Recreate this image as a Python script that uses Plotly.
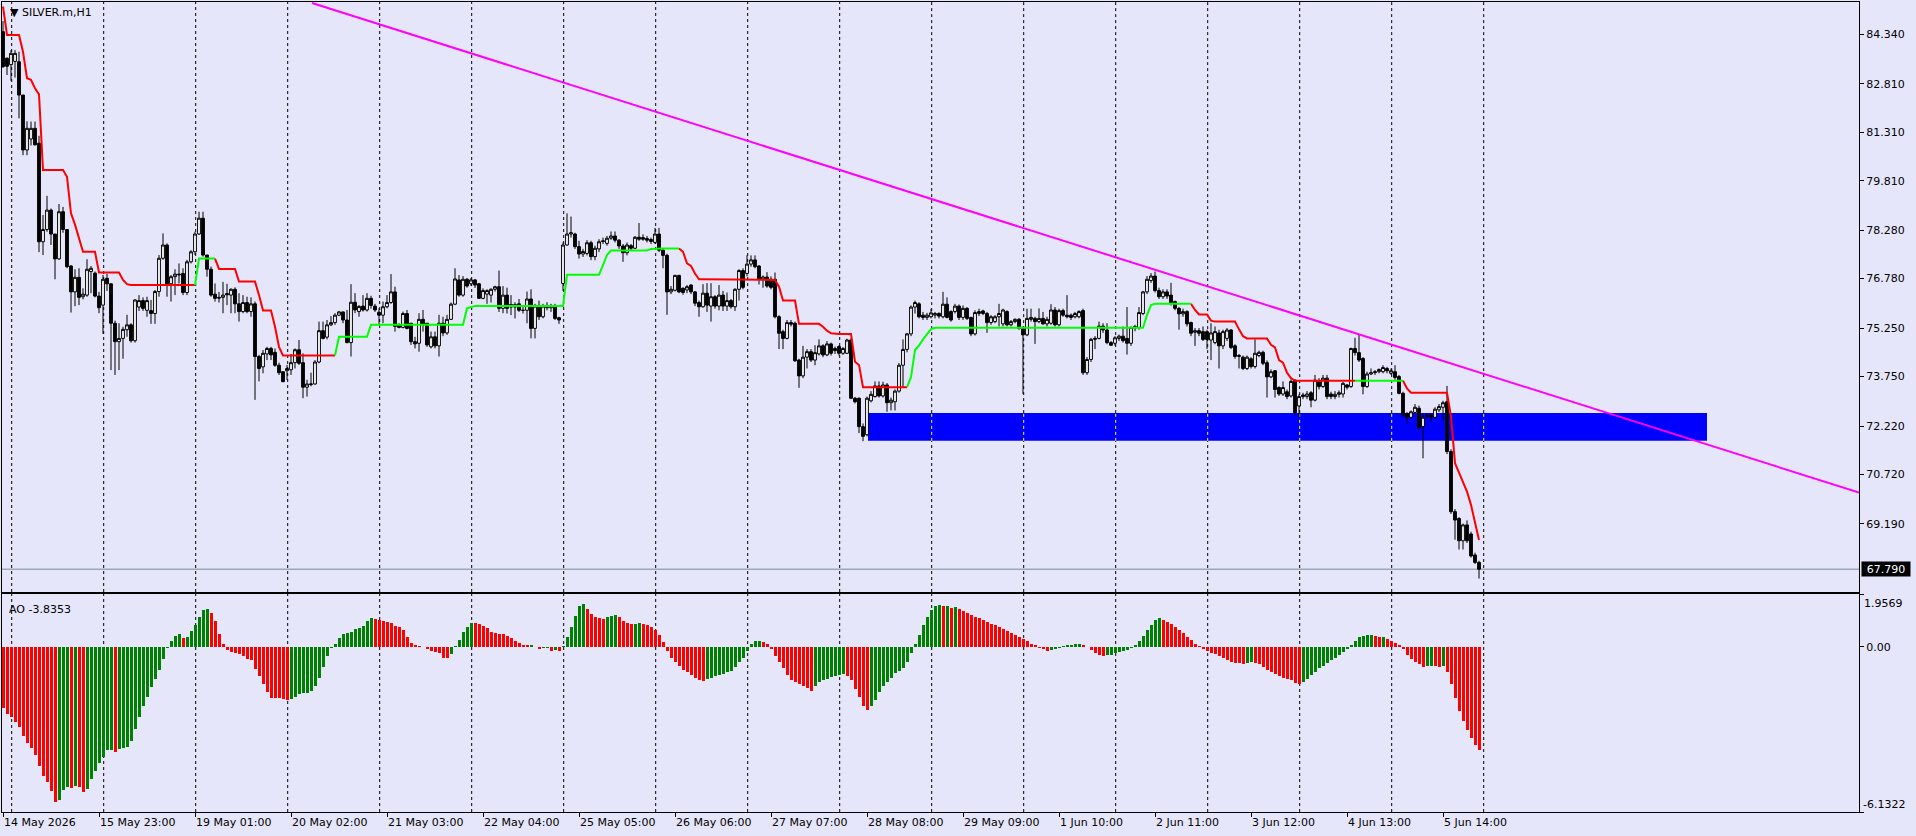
import plotly.graph_objects as go

# ---------------- DATA ----------------
time_labels = ["14 May 2026", "15 May 23:00", "19 May 01:00", "20 May 02:00", "21 May 03:00",
               "22 May 04:00", "25 May 05:00", "26 May 06:00", "27 May 07:00", "28 May 08:00",
               "29 May 09:00", "1 Jun 10:00", "2 Jun 11:00", "3 Jun 12:00", "4 Jun 13:00",
               "5 Jun 14:00"]
label_bars = [0, 24, 48, 72, 96, 120, 144, 168, 192, 216, 240, 264, 288, 312, 336, 360]

price_ticks = [84.34, 82.81, 81.31, 79.81, 78.28, 76.78, 75.25, 73.75, 72.22, 70.72, 69.19]

opens = [
 84.42, 83.60, 83.40, 83.50, 83.49, 82.46, 80.76, 81.10, 81.43, 80.97,
 77.92, 78.30, 78.90, 78.16, 77.39, 78.85, 78.30, 77.17, 76.37, 76.82,
 76.22, 76.27, 77.00, 76.95, 76.24, 75.96, 76.79, 76.62, 75.40, 74.83,
 74.93, 75.20, 75.35, 74.86, 75.90, 76.10, 75.80, 75.79, 75.70, 76.38,
 77.41, 77.82, 76.62, 76.84, 76.92, 76.94, 76.35, 77.30, 77.61, 78.16,
 78.65, 77.51, 77.07, 76.30, 76.20, 76.20, 76.32, 76.27, 76.45, 76.00,
 75.76, 76.04, 75.76, 76.00, 74.37, 74.05, 74.45, 74.62, 74.50, 74.10,
 73.90, 73.93, 73.96, 74.18, 74.58, 74.18, 73.42, 73.50, 73.52, 74.20,
 75.17, 74.97, 75.35, 75.42, 75.65, 75.75, 75.50, 74.80, 76.05, 75.76,
 75.93, 75.81, 76.17, 75.93, 75.74, 75.65, 75.91, 76.04, 76.37, 75.35,
 75.27, 75.70, 75.40, 74.83, 74.78, 75.52, 75.40, 74.67, 74.98, 74.70,
 75.40, 75.10, 75.52, 75.99, 76.74, 76.27, 76.76, 76.62, 76.74, 76.62,
 76.17, 76.30, 76.27, 76.45, 76.53, 75.86, 76.27, 75.98, 75.90, 76.00,
 75.80, 75.80, 76.15, 75.24, 75.93, 75.60, 75.93, 75.88, 75.90, 75.57,
 76.63, 77.82, 78.16, 78.16, 77.77, 77.54, 77.56, 77.89, 77.46, 77.70,
 77.95, 77.87, 78.03, 78.10, 77.97, 77.79, 77.58, 77.80, 77.72, 78.06,
 78.05, 78.02, 77.99, 77.90, 78.16, 77.66, 77.50, 76.37, 76.42, 76.88,
 76.48, 76.43, 76.58, 76.37, 76.04, 75.91, 76.33, 75.93, 76.22, 75.93,
 76.27, 75.93, 76.10, 75.91, 76.45, 77.03, 76.94, 77.23, 77.36, 77.17,
 76.76, 76.83, 76.76, 76.76, 75.60, 75.14, 74.93, 75.42, 75.40, 74.26,
 73.77, 74.35, 74.52, 74.26, 74.45, 74.70, 74.42, 74.76, 74.62, 74.68,
 74.47, 74.47, 74.88, 73.08, 73.08, 72.20, 71.95, 73.00, 73.13, 73.46,
 73.15, 73.49, 72.94, 72.97, 73.30, 74.10, 74.59, 75.07, 75.90, 76.00,
 75.65, 75.58, 75.60, 75.65, 75.70, 75.60, 75.99, 75.76, 75.76, 75.93,
 75.58, 75.86, 75.58, 75.07, 75.70, 75.78, 75.70, 75.42, 75.45, 75.60,
 75.38, 75.76, 75.35, 75.45, 75.52, 75.24, 75.04, 75.52, 75.55, 75.45,
 75.55, 75.38, 75.40, 75.81, 75.35, 75.79, 75.65, 75.65, 75.60, 75.60,
 75.79, 73.87, 74.28, 74.90, 74.93, 75.31, 75.19, 74.80, 74.78, 74.93,
 75.00, 74.93, 74.78, 75.25, 75.27, 75.70, 76.37, 76.72, 76.86, 76.41,
 76.22, 76.37, 76.27, 76.07, 75.86, 75.69, 75.76, 75.42, 75.12, 75.17,
 75.14, 75.14, 74.88, 74.80, 75.10, 74.70, 74.93, 75.19, 74.70, 74.37,
 74.35, 74.00, 74.30, 74.06, 74.40, 74.50, 74.18, 73.74, 73.93, 73.41,
 73.21, 73.28, 73.15, 73.64, 72.84, 73.18, 73.13, 73.25, 73.02, 73.59,
 73.44, 73.70, 73.21, 73.13, 73.20, 73.21, 73.49, 73.44, 74.62, 74.49,
 74.31, 73.44, 73.83, 73.87, 73.90, 73.90, 74.00, 73.85, 73.90, 73.75,
 73.23, 72.60, 72.49, 72.64, 72.77, 72.20, 72.56, 72.56, 72.49, 72.72,
 72.80, 72.97, 71.43, 69.57, 69.36, 68.67, 69.16, 68.88, 68.23, 68.00]

highs = [
 84.75, 83.62, 83.85, 83.85, 83.80, 82.46, 81.65, 81.64, 81.64, 81.20,
 78.75, 79.34, 78.95, 78.16, 79.09, 79.00, 78.30, 77.20, 77.07, 77.10,
 76.48, 77.38, 77.17, 77.00, 76.37, 76.89, 76.93, 76.63, 75.48, 75.40,
 75.29, 75.66, 75.40, 76.14, 76.27, 76.20, 76.22, 76.12, 76.43, 77.51,
 78.18, 77.87, 76.89, 77.07, 77.25, 77.10, 77.36, 77.66, 78.23, 78.85,
 78.85, 77.51, 77.15, 76.63, 76.37, 76.68, 76.62, 76.48, 76.51, 76.33,
 76.27, 76.22, 76.20, 76.07, 74.42, 74.57, 74.67, 74.67, 74.62, 74.18,
 73.90, 74.11, 74.45, 74.62, 74.88, 74.47, 73.65, 73.87, 74.26, 75.45,
 75.45, 75.50, 75.62, 75.71, 75.78, 75.76, 75.81, 76.61, 76.33, 75.96,
 76.27, 76.33, 76.25, 76.00, 75.86, 76.07, 76.27, 76.92, 76.53, 75.40,
 75.76, 75.81, 75.40, 74.98, 75.71, 75.81, 75.40, 75.14, 75.14, 75.66,
 75.60, 75.66, 76.04, 77.10, 76.89, 76.86, 76.80, 76.80, 76.77, 76.65,
 76.48, 76.45, 76.48, 76.56, 77.03, 76.55, 76.50, 76.27, 76.05, 76.15,
 75.95, 76.38, 76.45, 76.00, 76.10, 76.00, 76.05, 76.00, 76.00, 75.60,
 77.90, 78.80, 78.70, 78.20, 77.95, 77.70, 77.97, 77.95, 77.80, 78.00,
 78.05, 78.10, 78.24, 78.24, 78.00, 77.85, 77.90, 77.85, 78.10, 78.50,
 78.15, 78.10, 78.05, 78.35, 78.35, 77.70, 77.55, 76.55, 76.90, 76.90,
 76.51, 76.58, 76.61, 76.40, 76.10, 76.61, 76.64, 76.64, 76.27, 76.58,
 76.40, 76.35, 76.15, 76.48, 77.07, 77.10, 77.50, 77.50, 77.50, 77.20,
 76.88, 76.98, 76.85, 76.97, 75.65, 75.20, 75.50, 75.50, 75.45, 74.30,
 74.70, 74.60, 74.60, 74.72, 74.90, 74.75, 74.85, 74.80, 74.68, 74.72,
 74.66, 74.92, 74.93, 73.12, 73.10, 72.30, 73.13, 73.30, 73.60, 73.60,
 73.59, 73.55, 73.10, 73.35, 74.17, 74.90, 75.10, 75.95, 76.10, 76.05,
 75.75, 75.72, 75.85, 75.75, 75.74, 76.37, 76.20, 75.80, 76.00, 75.98,
 75.95, 75.90, 75.60, 75.80, 75.85, 75.82, 75.75, 75.65, 75.65, 76.00,
 75.85, 75.80, 75.50, 75.55, 75.56, 75.30, 75.85, 75.85, 75.60, 75.86,
 75.75, 75.60, 75.99, 75.90, 75.85, 75.85, 76.27, 75.70, 75.75, 75.80,
 75.85, 74.35, 74.95, 75.00, 75.45, 75.40, 75.40, 74.85, 75.00, 75.05,
 75.30, 75.90, 75.30, 75.35, 75.90, 76.40, 76.86, 76.95, 77.00, 76.50,
 76.45, 76.45, 76.65, 76.10, 75.90, 75.85, 75.80, 75.45, 75.25, 75.25,
 75.30, 75.20, 75.40, 75.30, 75.20, 75.20, 75.25, 75.22, 74.75, 74.45,
 74.40, 74.40, 74.35, 74.90, 74.55, 74.55, 74.25, 73.97, 73.95, 73.45,
 73.60, 73.35, 73.66, 73.66, 73.20, 73.25, 73.30, 73.30, 73.80, 73.70,
 73.80, 73.80, 73.28, 73.30, 73.32, 73.58, 73.52, 74.64, 74.95, 75.04,
 74.35, 73.90, 74.00, 73.95, 74.00, 74.10, 74.05, 74.00, 74.10, 73.80,
 73.28, 72.65, 72.70, 72.90, 72.85, 72.60, 72.62, 72.60, 72.80, 72.90,
 73.00, 73.46, 71.50, 69.65, 69.40, 69.20, 69.30, 68.95, 68.30, 68.05]

lows = [
 83.30, 83.08, 82.90, 83.00, 81.74, 80.60, 80.60, 80.90, 80.90, 77.60,
 77.51, 78.23, 77.82, 76.76, 77.36, 78.20, 77.10, 75.73, 75.93, 75.96,
 76.14, 76.22, 76.33, 76.20, 75.71, 75.07, 76.40, 73.95, 73.80, 73.95,
 74.30, 74.98, 74.80, 74.80, 75.78, 75.78, 75.60, 75.38, 75.38, 76.22,
 77.36, 76.22, 76.07, 76.27, 76.63, 76.27, 76.27, 77.25, 77.51, 78.13,
 77.46, 76.84, 76.22, 76.07, 76.04, 75.71, 75.96, 75.71, 75.71, 75.45,
 75.71, 75.71, 75.60, 73.03, 73.60, 73.85, 74.26, 74.26, 74.05, 73.80,
 73.59, 73.65, 73.80, 74.00, 74.11, 73.08, 73.13, 73.45, 73.50, 74.16,
 74.90, 74.90, 75.31, 75.35, 75.62, 75.40, 74.78, 74.37, 75.71, 75.60,
 75.76, 75.76, 75.85, 75.75, 75.35, 75.40, 75.86, 76.00, 75.14, 75.24,
 75.24, 75.21, 74.73, 74.62, 74.52, 75.14, 74.67, 74.62, 74.62, 74.37,
 75.00, 75.04, 75.50, 75.96, 76.22, 76.22, 76.50, 76.55, 76.49, 76.15,
 76.14, 76.00, 76.04, 76.38, 75.75, 75.71, 75.70, 75.65, 75.55, 75.75,
 75.70, 75.40, 74.93, 74.93, 75.50, 75.55, 75.80, 75.75, 75.50, 75.38,
 76.40, 77.80, 78.05, 77.70, 77.40, 77.45, 77.50, 77.35, 77.35, 77.60,
 77.85, 77.80, 77.98, 77.90, 77.70, 77.30, 77.50, 77.65, 77.70, 77.95,
 77.95, 77.90, 77.85, 77.85, 77.60, 77.10, 75.66, 76.30, 76.38, 76.33,
 76.28, 76.33, 76.30, 75.93, 75.60, 75.88, 75.75, 75.45, 75.85, 75.80,
 75.78, 75.78, 75.85, 75.78, 76.10, 76.45, 76.85, 77.15, 77.10, 76.60,
 76.50, 76.50, 76.45, 75.55, 74.60, 74.60, 74.90, 75.30, 74.20, 73.40,
 73.70, 74.00, 74.20, 74.10, 74.40, 74.35, 74.38, 74.40, 74.45, 74.40,
 74.42, 74.45, 73.05, 72.92, 72.00, 71.75, 71.90, 72.95, 73.10, 73.10,
 73.10, 72.66, 72.70, 72.70, 73.25, 73.40, 74.50, 75.00, 75.70, 75.55,
 75.50, 75.50, 75.55, 75.55, 75.55, 75.55, 75.55, 75.45, 75.70, 75.50,
 75.50, 75.50, 75.00, 75.02, 75.62, 75.65, 75.10, 75.35, 75.40, 75.30,
 75.30, 75.30, 75.30, 75.40, 75.20, 73.21, 75.00, 75.45, 74.76, 75.40,
 75.35, 75.30, 75.35, 75.30, 75.30, 75.60, 75.55, 75.50, 75.55, 75.55,
 73.80, 73.80, 74.20, 74.60, 74.90, 75.10, 74.75, 74.70, 74.70, 74.85,
 74.80, 74.43, 74.70, 75.15, 75.20, 75.65, 76.30, 76.65, 76.35, 76.15,
 76.15, 76.15, 75.95, 75.80, 75.20, 75.60, 75.30, 75.00, 74.70, 75.00,
 74.85, 74.60, 74.26, 74.75, 74.00, 74.60, 74.85, 74.60, 74.30, 74.00,
 73.95, 73.95, 74.00, 74.00, 74.35, 74.10, 73.10, 73.70, 73.10, 73.15,
 73.15, 73.05, 73.10, 72.55, 72.45, 73.05, 73.05, 72.80, 72.98, 73.35,
 73.40, 73.05, 73.05, 73.05, 73.10, 73.10, 73.35, 73.40, 74.40, 74.20,
 73.20, 73.40, 73.80, 73.80, 73.85, 73.85, 73.85, 73.80, 73.65, 73.20,
 72.50, 72.30, 72.45, 72.60, 72.10, 71.22, 72.45, 72.35, 72.45, 72.65,
 72.40, 71.35, 69.50, 68.70, 68.40, 68.40, 68.60, 68.15, 67.95, 67.50]

closes = [
 83.34, 83.35, 83.75, 83.75, 82.46, 80.76, 81.43, 81.43, 80.92, 77.92,
 78.30, 78.90, 78.16, 77.39, 78.85, 78.30, 77.15, 76.37, 76.82, 76.20,
 76.30, 77.07, 77.10, 76.24, 75.88, 76.76, 76.62, 75.40, 74.83, 74.93,
 75.21, 75.35, 74.86, 76.12, 76.10, 75.86, 76.10, 75.70, 76.38, 77.41,
 77.82, 76.62, 76.84, 76.92, 76.90, 76.35, 77.30, 77.61, 78.16, 78.65,
 77.51, 77.07, 76.27, 76.17, 76.18, 76.27, 76.28, 76.45, 76.00, 75.76,
 76.04, 75.76, 76.00, 74.37, 74.00, 74.47, 74.62, 74.42, 74.10, 73.87,
 73.59, 74.00, 74.18, 74.58, 74.16, 73.42, 73.52, 73.52, 74.20, 75.17,
 74.93, 75.35, 75.42, 75.65, 75.75, 75.50, 74.80, 76.05, 75.81, 75.92,
 75.81, 76.17, 75.95, 75.81, 75.65, 75.91, 76.04, 76.37, 75.30, 75.27,
 75.70, 75.24, 74.83, 74.76, 75.52, 75.35, 74.73, 74.98, 74.70, 75.40,
 75.10, 75.52, 75.99, 76.77, 76.27, 76.76, 76.55, 76.74, 76.58, 76.17,
 76.41, 76.41, 76.45, 76.53, 75.86, 76.27, 75.86, 75.90, 75.98, 75.80,
 75.80, 76.15, 75.24, 75.93, 75.60, 75.93, 75.88, 75.95, 75.55, 75.50,
 77.82, 78.16, 78.20, 77.77, 77.54, 77.62, 77.89, 77.46, 77.72, 77.92,
 77.93, 78.03, 78.10, 77.97, 77.79, 77.58, 77.82, 77.72, 78.06, 78.00,
 78.00, 77.97, 77.93, 78.16, 77.66, 77.50, 76.37, 76.45, 76.88, 76.37,
 76.35, 76.53, 76.37, 76.02, 75.91, 76.33, 75.96, 76.22, 75.93, 76.27,
 75.93, 76.10, 75.91, 76.45, 77.03, 76.51, 77.23, 77.36, 77.15, 76.76,
 76.83, 76.55, 76.51, 75.60, 75.09, 74.93, 75.42, 75.37, 74.24, 73.77,
 74.35, 74.52, 74.26, 74.49, 74.70, 74.42, 74.76, 74.47, 74.55, 74.47,
 74.62, 74.88, 73.08, 72.97, 72.20, 71.90, 73.08, 73.20, 73.46, 73.15,
 73.49, 72.94, 73.02, 73.30, 74.10, 74.59, 75.07, 75.90, 76.04, 75.60,
 75.58, 75.65, 75.72, 75.70, 75.62, 75.99, 75.58, 75.50, 75.93, 75.58,
 75.86, 75.55, 75.07, 75.73, 75.76, 75.70, 75.42, 75.60, 75.60, 75.70,
 75.81, 75.35, 75.45, 75.52, 75.24, 75.04, 75.55, 75.58, 75.45, 75.55,
 75.38, 75.52, 75.81, 75.35, 75.79, 75.65, 75.60, 75.58, 75.70, 75.76,
 73.87, 74.28, 74.90, 74.93, 75.31, 75.19, 74.80, 74.72, 74.95, 75.00,
 74.86, 74.78, 75.27, 75.30, 75.73, 76.37, 76.76, 76.86, 76.41, 76.22,
 76.37, 76.24, 76.02, 75.86, 75.69, 75.76, 75.38, 75.09, 75.17, 75.09,
 74.90, 74.90, 75.10, 75.14, 74.70, 75.14, 75.19, 74.65, 74.37, 74.40,
 74.00, 74.35, 74.06, 74.47, 74.50, 74.16, 73.74, 73.90, 73.35, 73.21,
 73.41, 73.13, 73.60, 72.63, 73.13, 73.13, 73.21, 73.02, 73.64, 73.44,
 73.70, 73.13, 73.13, 73.20, 73.25, 73.54, 73.42, 74.62, 74.49, 74.26,
 73.44, 73.83, 73.87, 73.90, 73.97, 74.03, 73.93, 73.93, 73.72, 73.23,
 72.56, 72.49, 72.66, 72.80, 72.18, 72.49, 72.53, 72.49, 72.74, 72.82,
 72.94, 71.43, 69.57, 69.31, 68.67, 69.16, 68.67, 68.20, 68.00, 67.79]

# trailing stop line (red above price / lime below price)
trail = [
 85.20, 84.32, 84.32, 84.32, 84.32, 83.80, 82.98, 82.93, 82.67, 82.48,
 80.14, 80.14, 80.14, 80.14, 80.14, 80.14, 79.93, 78.80, 78.45, 78.03,
 77.61, 77.61, 77.61, 77.61, 76.97, 76.97, 76.97, 76.97, 76.97, 76.97,
 76.74, 76.61, 76.58, 76.58, 76.58, 76.58, 76.58, 76.58, 76.58, 76.58,
 76.58, 76.58, 76.58, 76.58, 76.58, 76.58, 76.58, 76.58, 76.58, 77.40,
 77.40, 77.40, 77.40, 77.40, 77.08, 77.08, 77.08, 77.08, 77.08, 76.69,
 76.69, 76.69, 76.69, 76.69, 76.27, 75.79, 75.79, 75.79, 75.29, 74.67,
 74.40, 74.40, 74.40, 74.40, 74.40, 74.40, 74.40, 74.40, 74.40, 74.40,
 74.40, 74.40, 74.40, 74.40, 74.98, 74.98, 74.98, 74.98, 74.98, 74.98,
 74.98, 74.98, 75.35, 75.35, 75.35, 75.35, 75.35, 75.35, 75.35, 75.35,
 75.35, 75.35, 75.35, 75.35, 75.35, 75.35, 75.35, 75.35, 75.35, 75.35,
 75.35, 75.35, 75.35, 75.35, 75.35, 75.35, 75.86, 75.90, 75.93, 75.93,
 75.93, 75.93, 75.93, 75.93, 75.93, 75.93, 75.93, 75.93, 75.93, 75.93,
 75.93, 75.93, 75.93, 75.93, 75.93, 75.93, 75.93, 75.93, 75.93, 75.93,
 75.93, 76.90, 76.90, 76.90, 76.90, 76.90, 76.90, 76.90, 76.90, 76.90,
 77.20, 77.51, 77.65, 77.65, 77.65, 77.65, 77.65, 77.65, 77.65, 77.65,
 77.65, 77.65, 77.70, 77.71, 77.71, 77.71, 77.71, 77.71, 77.71, 77.71,
 77.61, 77.25, 77.17, 76.94, 76.76, 76.76, 76.76, 76.76, 76.76, 76.76,
 76.76, 76.76, 76.76, 76.76, 76.76, 76.76, 76.76, 76.76, 76.76, 76.76,
 76.76, 76.76, 76.76, 76.74, 76.53, 76.10, 76.10, 76.10, 76.10, 75.38,
 75.38, 75.38, 75.38, 75.38, 75.38, 75.29, 75.17, 75.09, 75.07, 75.07,
 75.07, 75.07, 75.07, 74.21, 74.11, 73.42, 73.42, 73.42, 73.42, 73.42,
 73.42, 73.42, 73.42, 73.42, 73.42, 73.42, 73.42, 73.73, 74.57, 74.71,
 74.90, 75.07, 75.22, 75.26, 75.26, 75.26, 75.26, 75.26, 75.26, 75.26,
 75.26, 75.26, 75.26, 75.26, 75.26, 75.26, 75.26, 75.26, 75.26, 75.26,
 75.26, 75.26, 75.26, 75.26, 75.26, 75.26, 75.26, 75.26, 75.26, 75.26,
 75.26, 75.26, 75.26, 75.26, 75.26, 75.26, 75.26, 75.26, 75.26, 75.26,
 75.26, 75.26, 75.26, 75.26, 75.26, 75.26, 75.26, 75.26, 75.26, 75.26,
 75.26, 75.26, 75.26, 75.26, 75.26, 75.26, 75.65, 75.96, 76.00, 76.00,
 76.00, 76.00, 76.00, 76.00, 76.00, 76.00, 76.00, 76.00, 75.81, 75.67,
 75.67, 75.67, 75.48, 75.45, 75.45, 75.45, 75.45, 75.45, 75.45, 75.21,
 75.00, 74.93, 74.93, 74.93, 74.93, 74.93, 74.93, 74.73, 74.65, 74.26,
 74.18, 73.87, 73.70, 73.62, 73.62, 73.62, 73.62, 73.62, 73.62, 73.62,
 73.62, 73.62, 73.62, 73.62, 73.62, 73.62, 73.62, 73.62, 73.62, 73.62,
 73.62, 73.62, 73.62, 73.62, 73.62, 73.62, 73.62, 73.62, 73.62, 73.62,
 73.62, 73.38, 73.25, 73.25, 73.25, 73.25, 73.25, 73.25, 73.25, 73.25,
 73.25, 73.25, 72.51, 71.07, 70.78, 70.50, 70.19, 69.78, 69.19, 68.69]
# bar where each colour run of the trailing line starts
trail_switch_bars = [0, 49, 54, 84, 170, 227, 298, 339, 351]
trail_switch_cols = ["r", "g", "r", "g", "r", "g", "r", "g", "r"]

# Awesome Oscillator histogram
ao = [
 -2.29, -2.49, -2.59, -2.78, -2.99, -3.30, -3.57, -3.77, -4.00, -4.41,
 -4.81, -5.03, -5.34, -5.75, -5.68, -5.32, -5.22, -5.24, -5.16, -5.19,
 -5.38, -5.28, -4.91, -4.60, -4.33, -4.08, -3.84, -3.83, -3.90, -3.80,
 -3.77, -3.73, -3.49, -3.06, -2.62, -2.19, -1.85, -1.51, -1.18, -0.85,
 -0.46, -0.06, 0.21, 0.41, 0.47, 0.32, 0.38, 0.57, 0.80, 1.09,
 1.37, 1.40, 1.25, 0.94, 0.47, 0.10, -0.11, -0.21, -0.23, -0.28,
 -0.33, -0.46, -0.49, -0.83, -1.08, -1.38, -1.69, -1.90, -1.91, -1.92,
 -1.93, -1.97, -1.95, -1.85, -1.76, -1.73, -1.72, -1.63, -1.47, -1.16,
 -0.77, -0.33, -0.04, 0.09, 0.31, 0.47, 0.51, 0.53, 0.66, 0.68,
 0.78, 0.97, 1.05, 1.03, 1.01, 0.97, 0.93, 0.88, 0.78, 0.74,
 0.63, 0.38, 0.14, 0.075, 0.026, -0.02, -0.09, -0.15, -0.18, -0.23,
 -0.41, -0.42, -0.28, 0.01, 0.25, 0.53, 0.72, 0.88, 0.87, 0.84,
 0.78, 0.68, 0.53, 0.51, 0.49, 0.47, 0.41, 0.31, 0.21, 0.14,
 0.075, 0.063, 0.075, -0.01, -0.085, -0.05, -0.036, -0.15, -0.11, -0.15,
 0.04, 0.38, 0.75, 1.13, 1.52, 1.58, 1.40, 1.21, 1.09, 1.06,
 1.04, 1.09, 1.15, 1.18, 1.09, 0.95, 0.88, 0.83, 0.85, 0.88,
 0.86, 0.80, 0.75, 0.63, 0.43, 0.19, -0.15, -0.40, -0.56, -0.70,
 -0.85, -0.95, -1.05, -1.17, -1.24, -1.26, -1.20, -1.16, -1.10, -1.05,
 -1.01, -0.95, -0.90, -0.77, -0.58, -0.40, -0.15, 0.12, 0.20, 0.21,
 0.17, 0.11, -0.09, -0.33, -0.58, -0.80, -1.05, -1.22, -1.32, -1.40,
 -1.47, -1.52, -1.63, -1.45, -1.30, -1.24, -1.20, -1.14, -1.10, -1.05,
 -1.01, -1.08, -1.24, -1.55, -1.88, -2.21, -2.34, -2.19, -1.97, -1.69,
 -1.45, -1.30, -1.17, -0.98, -0.90, -0.80, -0.55, -0.25, 0.10, 0.45,
 0.80, 1.10, 1.35, 1.50, 1.56, 1.50, 1.52, 1.45, 1.47, 1.40,
 1.32, 1.25, 1.17, 1.10, 1.05, 0.98, 0.92, 0.85, 0.80, 0.72,
 0.65, 0.58, 0.50, 0.42, 0.35, 0.28, 0.20, 0.12, 0.05, -0.03,
 -0.10, -0.15, -0.12, -0.08, -0.04, 0.02, 0.05, 0.08, 0.10, 0.12,
 0.08, -0.02, -0.12, -0.22, -0.30, -0.35, -0.32, -0.30, -0.25, -0.20,
 -0.15, -0.12, -0.05, 0.05, 0.20, 0.40, 0.62, 0.82, 1.00, 1.05,
 1.00, 0.92, 0.85, 0.75, 0.62, 0.50, 0.38, 0.25, 0.12, 0.02,
 -0.08, -0.15, -0.22, -0.28, -0.35, -0.42, -0.48, -0.55, -0.60, -0.62,
 -0.65, -0.60, -0.58, -0.60, -0.65, -0.75, -0.85, -0.92, -1.00, -1.10,
 -1.15, -1.20, -1.25, -1.35, -1.40, -1.30, -1.20, -1.05, -0.95, -0.80,
 -0.70, -0.60, -0.50, -0.40, -0.30, -0.20, -0.08, 0.05, 0.20, 0.35,
 0.40, 0.42, 0.45, 0.40, 0.35, 0.38, 0.30, 0.22, 0.15, 0.05,
 -0.10, -0.30, -0.45, -0.55, -0.65, -0.75, -0.72, -0.70, -0.72, -0.75,
 -0.70, -0.95, -1.40, -1.90, -2.40, -2.75, -3.10, -3.40, -3.65, -3.8353]
ao_max_label = 1.9569
ao_min_label = -6.1322

# drawn objects: trend line anchors and support zone (bar index, price)
trend_x = [77.25, 464.0]
trend_y = [85.31, 70.16]
zone_x = [216.25, 426.0]
zone_y = [71.76, 72.62]

N = len(closes)
for name, arr in [("opens", opens), ("highs", highs), ("lows", lows), ("trail", trail), ("ao", ao)]:
    assert len(arr) == N, (name, len(arr), N)

# ---------------- LAYOUT CONSTANTS ----------------
W, H = 1916, 836
L, R, T, B = 2, 57, 2, 24
PLOT_H = H - T - B
MAIN_BOTTOM_PX = 592
AO_TOP_PX = 594
main_dom = [(H - B - MAIN_BOTTOM_PX) / PLOT_H, 1.0]
ao_dom = [0.0, (H - B - AO_TOP_PX) / PLOT_H]
X_MIN, X_MAX = -0.25, 464.0
Y_MIN, Y_MAX = 67.084, 85.339
GRID0, GRID_STEP, GRID_N = 2.175, 23, 17
BG = "#E6E6FA"
FONT = "DejaVu Sans"

def px_to_paper_x(px):
    return (px - L) / (W - L - R)

def px_to_paper_y(py):
    return (H - B - py) / PLOT_H

xs = list(range(N))
fig = go.Figure()

# candles
fig.add_trace(go.Candlestick(
    x=xs, open=opens, high=highs, low=lows, close=closes,
    increasing=dict(line=dict(color="black", width=1), fillcolor="white"),
    decreasing=dict(line=dict(color="black", width=1), fillcolor="black"),
    whiskerwidth=0, xaxis="x", yaxis="y", hoverinfo="skip", showlegend=False))

# trailing line, split by colour
def side_at(i):
    s = trail_switch_cols[0]
    for b, c in zip(trail_switch_bars, trail_switch_cols):
        if i >= b:
            s = c
    return s

red_y = [None] * N
green_y = [None] * N
red_y[0] = trail[0]
for i in range(1, N):
    tgt = red_y if side_at(i) == "r" else green_y
    tgt[i - 1] = trail[i - 1]
    tgt[i] = trail[i]
fig.add_trace(go.Scatter(x=xs, y=red_y, mode="lines", line=dict(color="#FF0000", width=2),
                         xaxis="x", yaxis="y", hoverinfo="skip", showlegend=False))
fig.add_trace(go.Scatter(x=xs, y=green_y, mode="lines", line=dict(color="#00FF00", width=2),
                         xaxis="x", yaxis="y", hoverinfo="skip", showlegend=False))

# trend line
fig.add_trace(go.Scatter(x=trend_x, y=trend_y, mode="lines", line=dict(color="#FF00FF", width=2),
                         xaxis="x", yaxis="y", hoverinfo="skip", showlegend=False))

# AO histogram
ao_colors = ["#FF0000"]
for i in range(1, N):
    ao_colors.append("#008000" if ao[i] > ao[i - 1] else "#FF0000")
fig.add_trace(go.Bar(x=xs, y=ao, width=0.75, marker=dict(color=ao_colors, line=dict(width=0)),
                     xaxis="x2", yaxis="y2", hoverinfo="skip", showlegend=False))

# shapes: zone, grid, bid line
shapes = [dict(type="rect", xref="x", yref="y", x0=zone_x[0], x1=zone_x[1], y0=zone_y[0], y1=zone_y[1],
               fillcolor="#0000FF", line=dict(width=0), layer="below")]
for k in range(GRID_N):
    gx = GRID0 + GRID_STEP * k
    if zone_x[0] <= gx <= zone_x[1]:
        segs = [(Y_MIN, zone_y[0], "black"), (zone_y[0], zone_y[1], "#FFFF00"), (zone_y[1], Y_MAX, "black")]
    else:
        segs = [(Y_MIN, Y_MAX, "black")]
    for y0, y1, col in segs:
        shapes.append(dict(type="line", xref="x", yref="y", x0=gx, x1=gx, y0=y0, y1=y1,
                           line=dict(color=col, width=1, dash="3px,3px"), layer="below"))
    shapes.append(dict(type="line", xref="x2", yref="y2", x0=gx, x1=gx, y0=ao_min_label, y1=ao_max_label,
                       line=dict(color="black", width=1, dash="3px,3px"), layer="below"))
shapes.append(dict(type="line", xref="x domain", yref="y", x0=0, x1=1, y0=closes[-1], y1=closes[-1],
                   line=dict(color="#778899", width=1), layer="below"))

annotations = [
    dict(text="\u25BC SILVER.m,H1", xref="paper", yref="paper", x=px_to_paper_x(8), y=px_to_paper_y(12.5),
         xanchor="left", yanchor="middle", showarrow=False, font=dict(family=FONT, size=11, color="black")),
    dict(text="AO %.4f" % ao[-1], xref="paper", yref="paper", x=px_to_paper_x(7), y=px_to_paper_y(609.5),
         xanchor="left", yanchor="middle", showarrow=False, font=dict(family=FONT, size=11, color="black")),
    dict(text="%.3f" % closes[-1], xref="paper", yref="y", x=1, y=closes[-1], xanchor="left", yanchor="middle",
         xshift=2, showarrow=False, bgcolor="black", borderpad=1, width=46, height=12,
         font=dict(family=FONT, size=11, color="white")),
    dict(text="%.4f" % ao_max_label, xref="paper", yref="paper", x=1, y=px_to_paper_y(603.3), xanchor="left",
         yanchor="middle", xshift=3, showarrow=False, font=dict(family=FONT, size=11, color="black")),
    dict(text="%.4f" % ao_min_label, xref="paper", yref="paper", x=1, y=px_to_paper_y(804.3), xanchor="left",
         yanchor="middle", xshift=2, showarrow=False, font=dict(family=FONT, size=11, color="black")),
]

axis_common = dict(showgrid=False, zeroline=False, showline=True, mirror=True, linecolor="black",
                   linewidth=1, fixedrange=True)
fig.update_layout(
    width=W, height=H,
    margin=dict(l=L, r=R, t=T, b=B, pad=0),
    paper_bgcolor=BG, plot_bgcolor=BG,
    font=dict(family=FONT, size=11, color="black"),
    showlegend=False,
    boxgap=0.3, boxgroupgap=0.0, bargap=0,
    xaxis=dict(domain=[0, 1], anchor="y", range=[X_MIN, X_MAX], ticks="", showticklabels=False,
               rangeslider=dict(visible=False), **axis_common),
    yaxis=dict(domain=main_dom, anchor="x", side="right", range=[Y_MIN, Y_MAX],
               tickmode="array", tickvals=price_ticks, ticktext=["%.3f" % v for v in price_ticks],
               ticks="outside", ticklen=4, tickcolor="black", tickfont=dict(family=FONT, size=11),
               **axis_common),
    xaxis2=dict(domain=[0, 1], anchor="y2", range=[X_MIN, X_MAX],
                tickmode="array", tickvals=label_bars, ticktext=time_labels,
                ticks="outside", ticklen=4, tickcolor="black", ticklabelposition="outside right",
                tickfont=dict(family=FONT, size=11), rangeslider=dict(visible=False), **axis_common),
    yaxis2=dict(domain=ao_dom, anchor="x2", side="right", range=[ao_min_label, ao_max_label],
                tickmode="array", tickvals=[ao_max_label, 0, ao_min_label], ticktext=["", "0.00", ""],
                ticks="outside", ticklen=4, tickcolor="black", tickfont=dict(family=FONT, size=11),
                **axis_common),
    shapes=shapes,
    annotations=annotations,
)

fig.write_html("out.html", config={"displayModeBar": False, "staticPlot": True},
               post_script="document.body.style.margin='0';document.body.style.overflow='hidden';")
